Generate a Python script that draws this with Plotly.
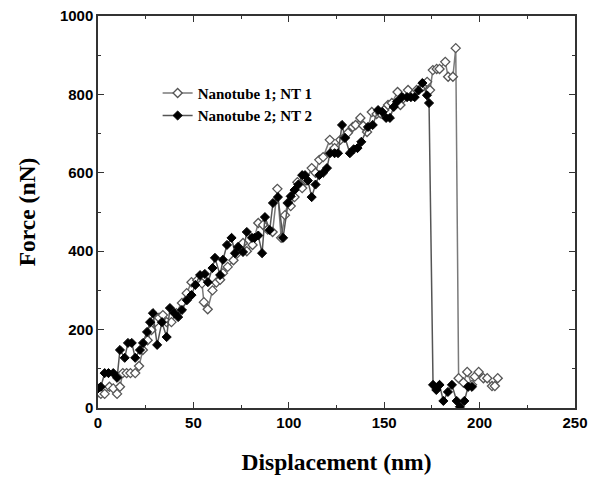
import plotly.graph_objects as go

# Nanotube 1 (open diamonds)
x1 = [0, 1.5, 3.5, 6, 8, 10, 11.5, 13, 15, 17,
      19.5, 21.5, 23.5, 26, 28, 30, 32, 34, 36, 38.5,
      41, 44, 46.5, 49, 52, 54.5, 55.5, 57.5, 60, 62,
      64, 65.5, 68, 71, 73, 76, 78, 81, 84, 86.5,
      89, 91.5, 94, 96, 98, 99.5, 101, 103, 104.5, 107,
      109, 112, 114, 116, 118, 121.5, 124, 127, 129, 131,
      133.5, 135, 137.5, 139, 141, 143.5, 146, 148, 150, 152,
      154, 157, 158.5, 160, 162.5, 165, 167, 170, 172.5, 174,
      175.5, 177.5, 179, 182, 183.5, 186, 187.5, 189, 191.5, 193.5,
      196, 197.5, 199.5, 202, 204, 206.5, 208, 209.5]
y1 = [40, 36, 36, 54, 50, 36, 54, 89, 89, 89,
      89, 107, 148, 173, 199, 219, 230, 237, 219, 219,
      242, 268, 293, 321, 326, 318, 270, 252, 300, 320,
      327, 344, 360, 377, 395, 421, 400, 416, 472, 467,
      455, 449, 559, 434, 492, 523, 515, 538, 576, 561,
      580, 612, 600, 633, 640, 684, 663, 684, 690, 702,
      717, 722, 740, 720, 704, 755, 750, 752, 760, 773,
      778, 806, 773, 790, 811, 800, 811, 819, 832, 811,
      862, 865, 865, 883, 845, 845, 918, 76, 65, 92,
      59, 80, 92, 76, 76, 56, 56, 76]

# Nanotube 2 (filled diamonds)
x2 = [0, 1.5, 3.5, 5.5, 8, 10, 11.5, 14, 15.7, 17.7,
      19.5, 22, 23.6, 25.7, 27.3, 28.8, 31, 33.5, 36, 37.7,
      40, 42, 44, 46.6, 49, 51, 53.5, 56, 57.6, 60,
      61.3, 64, 65.5, 67.6, 70, 71.8, 73.4, 76, 78, 80.7,
      82, 84, 86, 87.5, 90, 91.7, 94.3, 97, 99.6, 101,
      103, 105, 107, 108.5, 110, 112, 114, 116, 118, 120,
      121.6, 124, 125.8, 127.9, 129.5, 132, 134, 136, 138, 141.5,
      144, 146.8, 149, 151, 153, 155, 156.7, 159.3, 162, 164,
      166, 168, 170, 172.4, 173.5, 175.6, 177.3, 179, 181, 183.4,
      185.5, 188, 189.7, 192, 194, 196]
y2 = [50, 54, 89, 89, 89, 77, 148, 128, 166, 166,
      128, 148, 166, 194, 219, 242, 161, 219, 181, 255,
      242, 232, 250, 275, 288, 314, 339, 342, 321, 357,
      383, 339, 378, 416, 434, 395, 411, 398, 449, 434,
      434, 440, 395, 487, 454, 523, 538, 434, 523, 540,
      556, 570, 594, 594, 580, 538, 570, 594, 600, 612,
      650, 650, 650, 722, 689, 650, 660, 663, 679, 717,
      722, 760, 755, 740, 740, 768, 781, 793, 793, 793,
      793, 810, 829, 798, 778, 59, 46, 59, 18, 41,
      59, 18, 3, 18, 54, 54]

names = ["Nanotube 1; NT 1", "Nanotube 2; NT 2"]

fig = go.Figure()
fig.add_trace(go.Scatter(
    x=x1, y=y1, name=names[0], mode="lines+markers",
    line=dict(color="#7a7a7a", width=1.5),
    marker=dict(symbol="diamond", size=7, color="white",
                line=dict(color="#555555", width=1.3))))
fig.add_trace(go.Scatter(
    x=x2, y=y2, name=names[1], mode="lines+markers",
    line=dict(color="#555555", width=1.5),
    marker=dict(symbol="diamond", size=7, color="black",
                line=dict(color="black", width=1))))

tickfont = dict(family="Liberation Sans, Arial", size=15, color="black", weight="bold")
titlefont = dict(family="Liberation Serif, Times New Roman", size=23.5, color="black", weight="bold")

fig.update_xaxes(
    range=[0, 250], dtick=50, tick0=0, ticks="inside", ticklen=6,
    tickwidth=1.2, tickcolor="#333", ticklabeloverflow="allow",
    minor=dict(dtick=25, ticks="inside", ticklen=3, tickcolor="#333"),
    showline=True, linecolor="#333", linewidth=1.5, mirror="ticks",
    showgrid=False, zeroline=False, tickfont=tickfont,
    title=dict(text="Displacement (nm)", font=titlefont, standoff=24))
fig.update_yaxes(
    range=[0, 1000], dtick=200, tick0=0, ticks="inside", ticklen=6,
    tickwidth=1.2, tickcolor="#333", ticklabeloverflow="allow",
    minor=dict(dtick=100, ticks="inside", ticklen=3, tickcolor="#333"),
    showline=True, linecolor="#333", linewidth=1.5, mirror="ticks",
    showgrid=False, zeroline=False, tickfont=tickfont,
    title=dict(text="Force (nN)", font=titlefont, standoff=18))

fig.update_layout(
    width=589, height=470,
    margin=dict(l=90, r=22, t=8, b=70, autoexpand=False),
    paper_bgcolor="white", plot_bgcolor="white",
    legend=dict(x=0.125, y=0.845, xanchor="left", yanchor="top",
                bgcolor="rgba(0,0,0,0)", tracegroupgap=0, itemwidth=30,
                font=dict(family="Liberation Serif, Times New Roman", size=15,
                          color="black", weight="bold")),
)

fig.write_html("out.html")
